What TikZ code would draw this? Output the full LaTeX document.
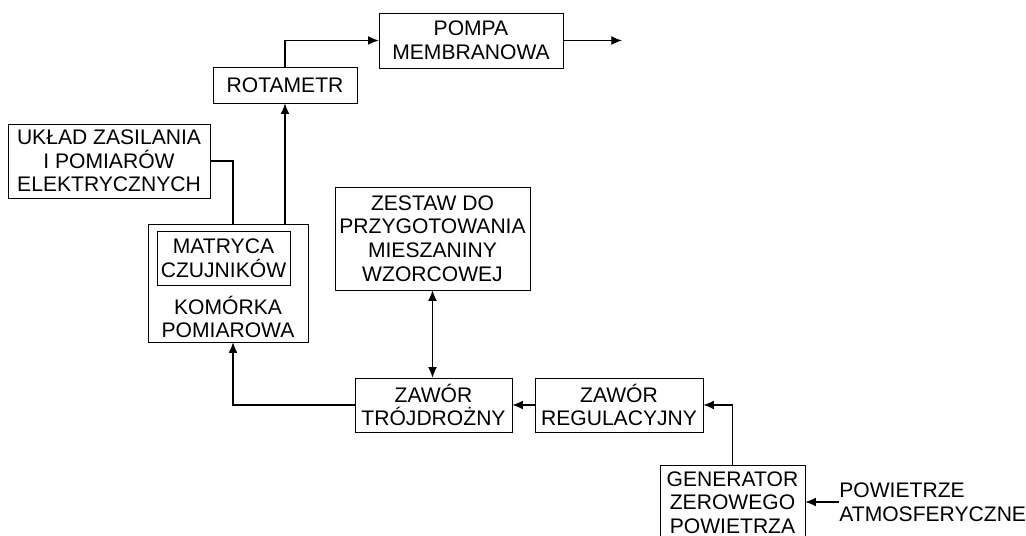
\documentclass[tikz,border=0pt]{standalone}
\usepackage{fontspec}
\setmainfont{Liberation Sans}
\usepackage{tikz}
\usetikzlibrary{arrows.meta}
\tikzset{
    >={Latex[length=6pt,width=5pt]},
    blockbox/.style={draw, thin, align=center, inner sep=2pt, font=\fontsize{12}{13.4}\selectfont},
    plaintext/.style={align=center, inner sep=0pt, font=\fontsize{12}{13.4}\selectfont},
    flowarrow/.style={->, line width=0.6pt},
    flowboth/.style={<->, line width=0.6pt},
    flowline/.style={-, line width=0.6pt}
}

\begin{document}
\begin{tikzpicture}
    \useasboundingbox (0,0) rectangle (20.52,10.72);

    \node[blockbox, minimum width=3.68cm, minimum height=1.10cm] (1) at (9.42,9.91) {POMPA\\MEMBRANOWA};
    \node[blockbox, minimum width=2.88cm, minimum height=0.72cm] (2) at (5.70,9.02) {ROTAMETR};
    \node[blockbox, minimum width=4.04cm, minimum height=1.48cm] (3) at (2.18,7.50) {UKŁAD ZASILANIA\\I POMIARÓW\\ELEKTRYCZNYCH};

    \node[blockbox, minimum width=3.20cm, minimum height=2.36cm] (4) at (4.56,5.06) {};
    \node[blockbox, minimum width=2.66cm, minimum height=1.08cm] (5) at (4.47,5.56) {MATRYCA\\CZUJNIKÓW};
    \node[plaintext] (6) at (4.56,4.38) {KOMÓRKA\\POMIAROWA};

    \node[blockbox, minimum width=3.90cm, minimum height=2.06cm] (7) at (8.65,5.95) {ZESTAW DO\\PRZYGOTOWANIA\\MIESZANINY\\WZORCOWEJ};
    \node[blockbox, minimum width=3.14cm, minimum height=1.08cm] (8) at (8.67,2.62) {ZAWÓR\\TRÓJDROŻNY};
    \node[blockbox, minimum width=3.36cm, minimum height=1.08cm] (9) at (12.38,2.62) {ZAWÓR\\REGULACYJNY};
    \node[blockbox, minimum width=2.90cm, minimum height=1.50cm] (10) at (14.65,0.67) {GENERATOR\\ZEROWEGO\\POWIETRZA};
    \node[plaintext, anchor=west, align=left] (11) at (16.78,0.68) {POWIETRZE\\ATMOSFERYCZNE};
    \coordinate (12) at (12.44,9.91);

    \draw [flowarrow] (2.north) |- (1.west);
    \draw [flowarrow] (1.east) -- (12);
    \draw [flowarrow] (4.north -| 2.south) -- (2.south);
    \draw [flowline] (3.east) -| ([xshift=1mm]4.north);
    \draw [flowarrow] (8.west) -| ([xshift=1mm]4.south);
    \draw [flowboth] (7.south) -- (7.south |- 8.north);
    \draw [flowarrow] (9.west) -- (8.east);
    \draw [flowarrow] (10.north) |- (9.east);
    \draw [flowarrow] (11.west) -- (11.west -| 10.east);
\end{tikzpicture}
\end{document}
